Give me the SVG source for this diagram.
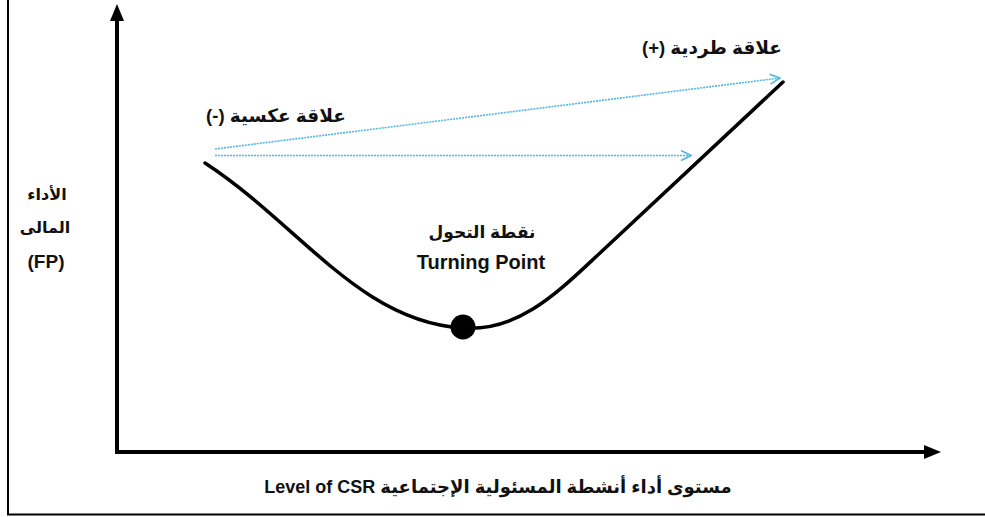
<svg xmlns="http://www.w3.org/2000/svg" width="985" height="517" viewBox="0 0 985 517">
<defs>
<style>
.t{font-family:"Liberation Sans","DejaVu Sans",sans-serif;font-weight:bold;fill:#111;}
.ar{direction:rtl;unicode-bidi:embed;}
.axis{stroke:#000;stroke-width:4;fill:none;}
.blue{stroke:#4fb6e3;stroke-width:1.6;stroke-dasharray:2 1;fill:none;}
</style>
<marker id="bh" viewBox="0 0 12 12" refX="11" refY="6" markerWidth="12" markerHeight="12" orient="auto" markerUnits="userSpaceOnUse">
<path d="M1,1 L11,6 L1,11" fill="none" stroke="#4fb6e3" stroke-width="1.6"/>
</marker>
</defs>
<rect width="985" height="517" fill="#fff"/>
<g id="frame">
<path d="M8,0 L8,514.5 L985,514.5" fill="none" stroke="#000" stroke-width="2"/>
</g>
<g id="axes">
<path class="axis" d="M117,452 L117,20"/>
<path d="M117,4 L110,21 L124,21 z" fill="#000"/>
<path class="axis" d="M115,452 L926,452"/>
<path d="M941,452 L924,445 L924,459 z" fill="#000"/>
</g>
<g id="curve">
<path d="M205,163 C 300,225 360,322 463,328 C 520,332 560,290 600,253 L 783,82" fill="none" stroke="#000" stroke-width="3.5" stroke-linecap="round"/>
</g>
<g id="turning-point">
<circle cx="463" cy="327" r="12.5" fill="#000"/>
<text class="t ar" x="482" y="238" font-size="17" text-anchor="middle">نقطة التحول</text>
<text class="t" x="481" y="269" font-size="20" text-anchor="middle">Turning Point</text>
</g>
<g id="connectors">
<path class="blue" d="M215,155.5 L691,155.5" marker-end="url(#bh)"/>
<path class="blue" d="M215,149 L780,78" marker-end="url(#bh)"/>
</g>
<g id="labels">
<text class="t ar" x="712" y="54" font-size="18.5" text-anchor="middle">علاقة طردية (+)</text>
<text class="t ar" x="276" y="122" font-size="18.5" text-anchor="middle">علاقة عكسية (-)</text>
<text class="t ar" x="47" y="200" font-size="16" text-anchor="middle">الأداء</text>
<text class="t ar" x="45" y="233" font-size="16" text-anchor="middle">المالى</text>
<text class="t" x="46" y="268" font-size="19" text-anchor="middle">(FP)</text>
<text class="t ar" x="498" y="493" font-size="18" text-anchor="middle">مستوى أداء أنشطة المسئولية الإجتماعية Level of CSR</text>
</g>
</svg>
